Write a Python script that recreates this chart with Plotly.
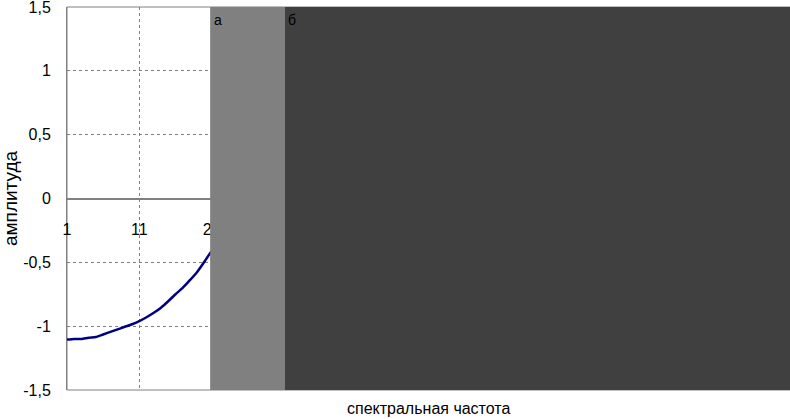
import plotly.graph_objects as go

# спектральная частота (номер отсчёта) и амплитуда
freq = list(range(1, 22))
amplitude = [-1.105, -1.10, -1.10, -1.09, -1.085, -1.065, -1.045, -1.025, -1.005, -0.985,
             -0.96, -0.93, -0.895, -0.855, -0.805, -0.75, -0.70, -0.64, -0.575, -0.495, -0.41]

x_ticks = list(range(1, 102, 10))
y_ticks = [-1.5, -1.0, -0.5, 0, 0.5, 1.0, 1.5]
y_tick_text = ["-1,5", "-1", "-0,5", "0", "0,5", "1", "1,5"]

FONT = "Liberation Sans, Arial, sans-serif"

fig = go.Figure()
fig.add_trace(go.Scatter(x=freq, y=amplitude, mode="lines",
                         line=dict(color="#000080", width=2.5, shape="spline", smoothing=0.6),
                         showlegend=False))

# overlay panels covering the rest of the chart
fig.add_shape(type="rect", xref="paper", yref="paper", x0=0.198, x1=0.3015, y0=0, y1=1,
              fillcolor="#808080", line_width=0, layer="above")
fig.add_shape(type="rect", xref="paper", yref="paper", x0=0.3015, x1=1.0, y0=0, y1=1,
              fillcolor="#404040", line_width=0, layer="above")
# plot area border
fig.add_shape(type="rect", xref="paper", yref="paper", x0=0, x1=1, y0=0, y1=1,
              line=dict(color="#808080", width=1), layer="below")

fig.add_annotation(x=0.2, y=1, xref="paper", yref="paper", text="а", showarrow=False,
                   xanchor="left", yanchor="top", yshift=-3, font=dict(size=14, color="black"))
fig.add_annotation(x=0.3035, y=1, xref="paper", yref="paper", text="б", showarrow=False,
                   xanchor="left", yanchor="top", yshift=-3, font=dict(size=14, color="black"))

fig.update_layout(
    width=790, height=419,
    margin=dict(l=67, r=0, t=7, b=29),
    paper_bgcolor="white", plot_bgcolor="white",
    font=dict(family=FONT, size=16, color="black"),
    xaxis=dict(range=[1, 101], tickvals=x_ticks, ticktext=[str(v) for v in x_ticks],
               anchor="free", position=0.5, showline=True, linecolor="#808080", linewidth=1,
               showgrid=True, gridcolor="#808080", griddash="dot", gridwidth=1,
               zeroline=False, ticks="", ticklabelstandoff=16,
               title=dict(text="")),
    yaxis=dict(range=[-1.5, 1.5], tickvals=y_ticks, ticktext=y_tick_text,
               showline=True, linecolor="#808080", linewidth=1,
               showgrid=True, gridcolor="#808080", griddash="dot", gridwidth=1,
               zeroline=True, zerolinecolor="#808080", zerolinewidth=1,
               ticks="", ticklabelstandoff=12, ticklabeloverflow="allow",
               title=dict(text="амплитуда", standoff=1)),
)

fig.add_annotation(x=0.5, y=0, xref="paper", yref="paper", text="спектральная частота",
                   showarrow=False, yanchor="top", yshift=-8, font=dict(size=16))

fig.write_html("out.html", config={"displayModeBar": False},
               post_script="document.body.style.margin='0';")
